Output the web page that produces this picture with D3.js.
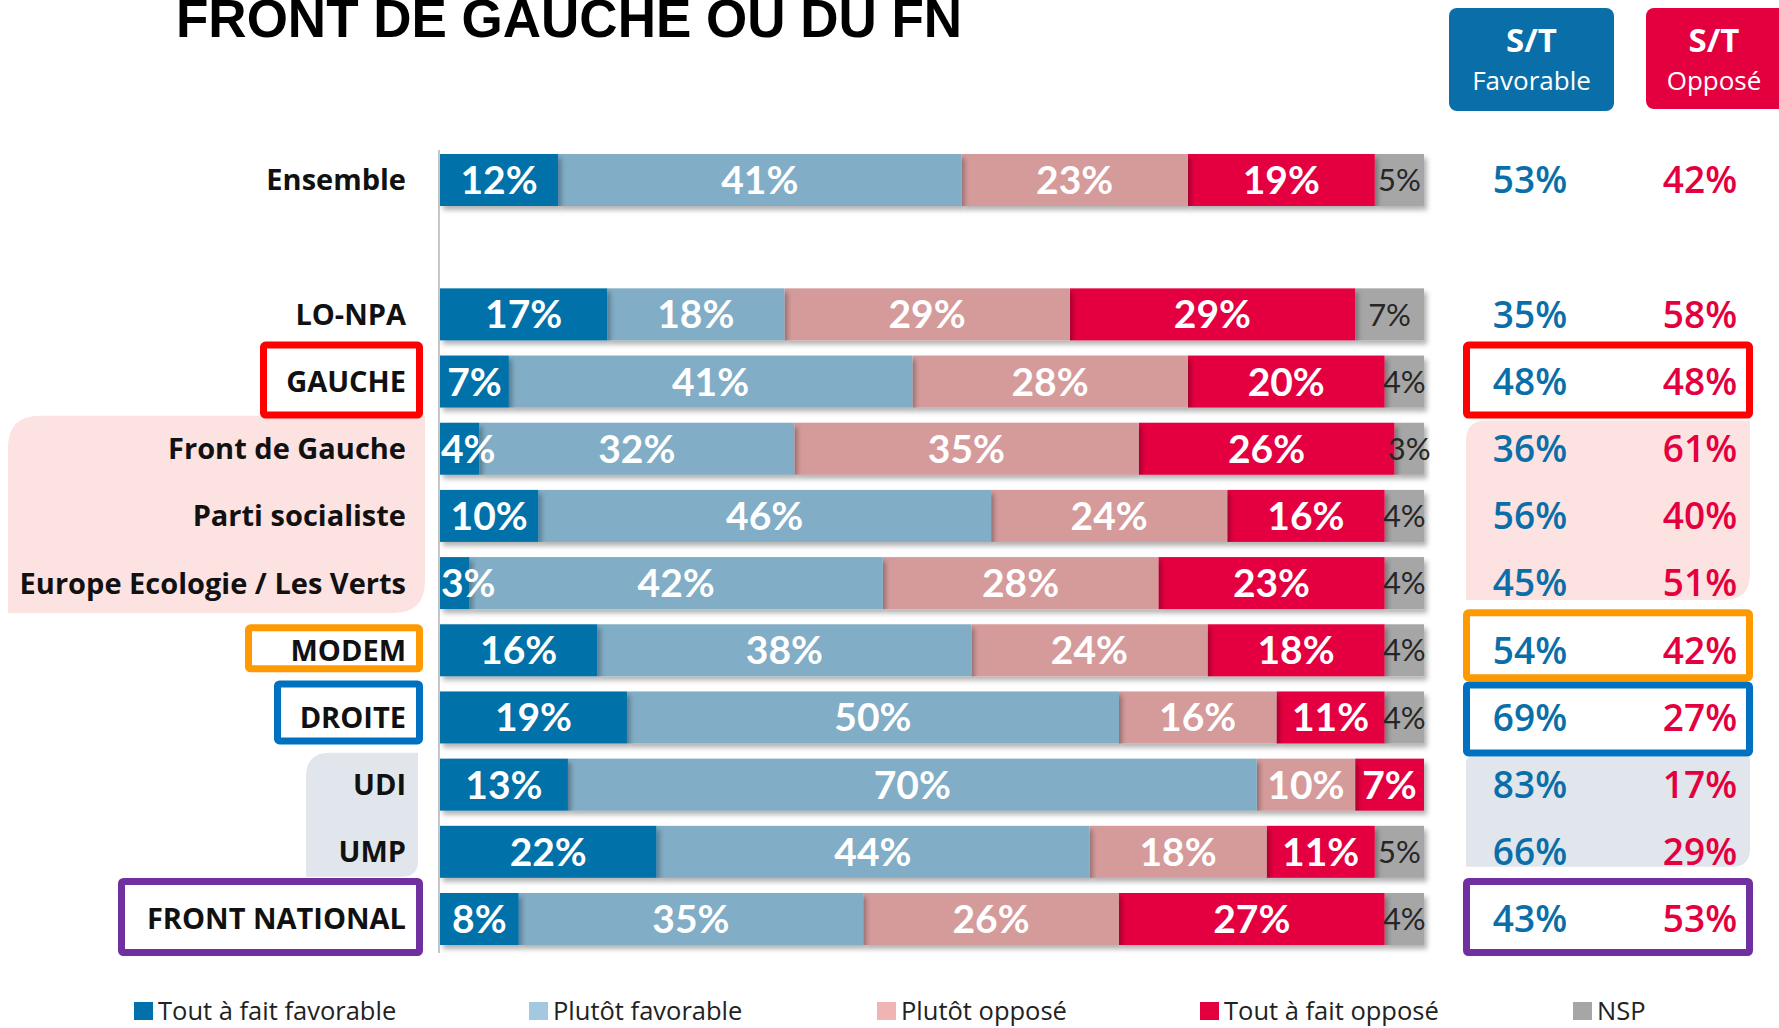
<!DOCTYPE html>
<html>
<head>
<meta charset="utf-8">
<script src="https://cdn.jsdelivr.net/npm/d3@7"></script>
<style>
  body { margin: 0; background: #fff; }
  svg { display: block; }
</style>
</head>
<body>
<svg id="chart"></svg>
<script>
// Dimensions
const width = 1779;
const height = 1028;

// Données
const categories = ["Ensemble", "LO-NPA", "GAUCHE", "Front de Gauche", "Parti socialiste",
  "Europe Ecologie / Les Verts", "MODEM", "DROITE", "UDI", "UMP", "FRONT NATIONAL"];
const toutFavorable = [12, 17, 7, 4, 10, 3, 16, 19, 13, 22, 8];
const plutotFavorable = [41, 18, 41, 32, 46, 42, 38, 50, 70, 44, 35];
const plutotOppose = [23, 29, 28, 35, 24, 28, 24, 16, 10, 18, 26];
const toutOppose = [19, 29, 20, 26, 16, 23, 18, 11, 7, 11, 27];
const nsp = [5, 7, 4, 3, 4, 4, 4, 4, 0, 5, 4];
const stFavorable = [53, 35, 48, 36, 56, 45, 54, 69, 83, 66, 43];
const stOppose = [42, 58, 48, 61, 40, 51, 42, 27, 17, 29, 53];

const seriesKeys = ["tf", "pf", "po", "to", "nsp"];
const seriesNames = ["Tout à fait favorable", "Plutôt favorable", "Plutôt opposé", "Tout à fait opposé", "NSP"];
const seriesColors = ["#0071a9", "#81adc6", "#d59b9b", "#e4003f", "#a6a6a6"];
const legendColors = ["#0071ab", "#a3c8df", "#f1b4b4", "#e4003f", "#a6a6a6"];

const rows = categories.map((c, i) => ({
  cat: c, tf: toutFavorable[i], pf: plutotFavorable[i], po: plutotOppose[i],
  to: toutOppose[i], nsp: nsp[i], stF: stFavorable[i], stO: stOppose[i]
}));

// un emplacement vide après "Ensemble"
const slots = [categories[0], "__vide__", ...categories.slice(1)];

const svg = d3.select("#chart").attr("width", width).attr("height", height);

const x = d3.scaleLinear().domain([0, 100]).range([440, 1424]);
const y = d3.scaleBand().domain(slots).range([154, 945]).paddingInner(0.226).paddingOuter(0);
const bw = y.bandwidth();
const mid = c => y(c) + bw / 2;

// Ombre portée des barres
const defs = svg.append("defs");
defs.append("filter").attr("id", "shadow")
  .attr("x", "-10%").attr("y", "-20%").attr("width", "130%").attr("height", "160%")
  .append("feDropShadow")
  .attr("dx", 3).attr("dy", 4).attr("stdDeviation", 2.5)
  .attr("flood-color", "#000").attr("flood-opacity", 0.3);

// chemin rectangle avec coins arrondis au choix
function roundRect(x0, y0, x1, y1, tl, tr, br, bl) {
  return `M${x0 + tl},${y0} H${x1 - tr} Q${x1},${y0} ${x1},${y0 + tr}
    V${y1 - br} Q${x1},${y1} ${x1 - br},${y1} H${x0 + bl} Q${x0},${y1} ${x0},${y1 - bl}
    V${y0 + tl} Q${x0},${y0} ${x0 + tl},${y0} Z`;
}

// Fonds des groupes (gauche rose, droite gris-bleu)
const groupBg = [
  { from: "Front de Gauche", to: "Europe Ecologie / Les Verts", color: "#fde2e2",
    left: [8, 425, -7, 4, 32, 0, 32, 0], right: [1466, 1750, -2, -9, 20, 0, 26, 0] },
  { from: "UDI", to: "UMP", color: "#e1e6ed",
    left: [306, 418, -6, -1, 24, 0, 16, 0], right: [1466, 1750, -2, -11, 6, 0, 18, 0] }
];
groupBg.forEach(g => {
  [g.left, g.right].forEach(p => {
    const y0 = y(g.from) + p[2], y1 = y(g.to) + bw + p[3];
    svg.append("path").attr("d", roundRect(p[0], y0, p[1], y1, p[4], p[5], p[6], p[7]))
      .attr("fill", g.color);
  });
});

// Cadres de couleur autour des familles politiques
const boxes = [
  { cat: "GAUCHE", color: "#ff0000", lx: 260, l: [-14, 11], r: [-14, 11] },
  { cat: "MODEM", color: "#ff9900", lx: 245, l: [0, -4], r: [-15, 5] },
  { cat: "DROITE", color: "#0070c0", lx: 274, l: [-11, 1], r: [-10, 13] },
  { cat: "FRONT NATIONAL", color: "#7030a0", lx: 118, l: [-15, 11], r: [-15, 11] }
];
const sw = 7;
boxes.forEach(b => {
  const t = y(b.cat);
  svg.append("rect")
    .attr("x", b.lx + sw / 2).attr("y", t + b.l[0] + sw / 2)
    .attr("width", 423 - b.lx - sw).attr("height", bw - b.l[0] + b.l[1] - sw)
    .attr("rx", 2).attr("fill", "#fff").attr("stroke", b.color).attr("stroke-width", sw);
  svg.append("rect")
    .attr("x", 1463 + sw / 2).attr("y", t + b.r[0] + sw / 2)
    .attr("width", 1753 - 1463 - sw).attr("height", bw - b.r[0] + b.r[1] - sw)
    .attr("rx", 2).attr("fill", "none").attr("stroke", b.color).attr("stroke-width", sw);
});

// Axe vertical
svg.append("line")
  .attr("x1", x(0) - 1).attr("x2", x(0) - 1)
  .attr("y1", y(categories[0]) - 4).attr("y2", y("FRONT NATIONAL") + bw + 8)
  .attr("stroke", "#c8c8c8").attr("stroke-width", 2);

// Barres empilées
const stack = d3.stack().keys(seriesKeys)(rows);

const layers = svg.append("g").selectAll("g")
  .data(stack.slice().reverse())
  .enter().append("g")
  .attr("fill", d => seriesColors[seriesKeys.indexOf(d.key)]);

layers.selectAll("rect")
  .data(d => d.filter(s => s[1] > s[0]))
  .enter().append("rect")
  .attr("x", d => x(d[0]))
  .attr("y", d => y(d.data.cat))
  .attr("width", d => x(d[1]) - x(d[0]))
  .attr("height", bw)
  .attr("filter", "url(#shadow)");

// Valeurs dans les barres
const valueLayer = svg.append("g");
stack.forEach(serie => {
  const isNsp = serie.key === "nsp";
  serie.filter(s => s[1] > s[0]).forEach(s => {
    const t = valueLayer.append("text")
      .attr("y", mid(s.data.cat))
      .attr("dy", "0.36em")
      .attr("text-anchor", "middle")
      .attr("font-family", "Lato, 'Open Sans', sans-serif")
      .attr("font-weight", isNsp ? 400 : 700)
      .attr("font-size", isNsp ? 31 : 39)
      .attr("fill", isNsp ? "#262626" : "#fff")
      .text((s[1] - s[0]) + "%");
    const w = t.node().getComputedTextLength();
    const cx = Math.max((x(s[0]) + x(s[1])) / 2, x(0) + w / 2 + 1);
    t.attr("x", cx);
  });
});

// Libellés des catégories
svg.append("g").selectAll("text")
  .data(categories)
  .enter().append("text")
  .attr("x", 406)
  .attr("y", d => mid(d))
  .attr("dy", "0.36em")
  .attr("text-anchor", "end")
  .attr("font-family", "'Open Sans', sans-serif")
  .attr("font-weight", 700)
  .attr("font-size", 29)
  .attr("fill", "#111")
  .text(d => d);

// Colonnes S/T
const colFav = 1530, colOpp = 1700;
const stCols = [
  { key: "stF", x: colFav, color: "#0a6fa9", title: "Favorable", box: [1449, 1614, 103] },
  { key: "stO", x: colOpp, color: "#e4003f", title: "Opposé", box: [1646, 1790, 101] }
];
stCols.forEach(col => {
  svg.append("rect")
    .attr("x", col.box[0]).attr("y", 8)
    .attr("width", col.box[1] - col.box[0]).attr("height", col.box[2])
    .attr("rx", 8).attr("fill", col.color);
  const cx = (col.box[0] + Math.min(col.box[1], 1782)) / 2;
  svg.append("text").attr("x", cx).attr("y", 52)
    .attr("text-anchor", "middle").attr("fill", "#fff")
    .attr("font-family", "'Open Sans', sans-serif").attr("font-weight", 700)
    .attr("font-size", 33).text("S/T");
  svg.append("text").attr("x", cx).attr("y", 90)
    .attr("text-anchor", "middle").attr("fill", "#fff")
    .attr("font-family", "'Open Sans', sans-serif").attr("font-weight", 400)
    .attr("font-size", 26).text(col.title);

  svg.append("g").selectAll("text")
    .data(rows)
    .enter().append("text")
    .attr("x", col.x)
    .attr("y", d => mid(d.cat))
    .attr("dy", "0.36em")
    .attr("text-anchor", "middle")
    .attr("font-family", "'Open Sans', sans-serif")
    .attr("font-weight", 600)
    .attr("font-size", 37)
    .attr("fill", col.color)
    .text(d => d[col.key] + "%");
});

// Titre (coupé en haut comme sur l'original)
svg.append("text")
  .attr("x", 176).attr("y", 37)
  .attr("font-family", "'Liberation Sans', Arial, sans-serif")
  .attr("font-weight", 700)
  .attr("font-size", 53)
  .attr("fill", "#000")
  .text("FRONT DE GAUCHE OU DU FN");

// Légende
const legendX = [134, 529, 877, 1200, 1573];
const legend = svg.append("g").selectAll("g")
  .data(seriesNames)
  .enter().append("g")
  .attr("transform", (d, i) => `translate(${legendX[i]},1002)`);
legend.append("rect")
  .attr("width", 19).attr("height", 18)
  .attr("fill", (d, i) => legendColors[i]);
legend.append("text")
  .attr("x", 24).attr("y", 18)
  .attr("font-family", "'Open Sans', sans-serif")
  .attr("font-size", 25.5)
  .attr("fill", "#222")
  .text(d => d);
</script>
</body>
</html>
